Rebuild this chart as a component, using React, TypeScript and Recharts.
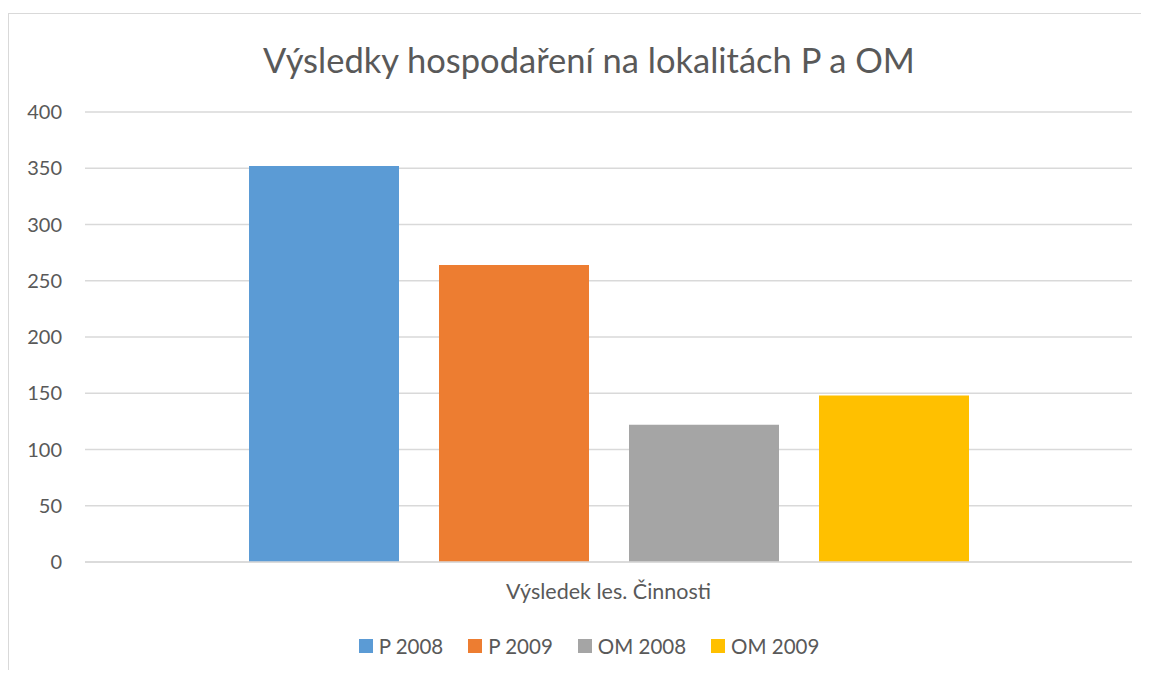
import React from "react";
import { BarChart, Bar, XAxis, YAxis, CartesianGrid } from "recharts";

const category = "Výsledek les. Činnosti";
const seriesNames = ["P 2008", "P 2009", "OM 2008", "OM 2009"];
const seriesKeys = ["p2008", "p2009", "om2008", "om2009"];
const seriesValues = [352, 264, 122, 148];
const seriesColors = ["#5b9bd5", "#ed7d31", "#a5a5a5", "#ffc000"];
const yTicks = [0, 50, 100, 150, 200, 250, 300, 350, 400];

const row: Record<string, string | number> = { name: category };
seriesKeys.forEach((k, i) => {
  row[k] = seriesValues[i];
});
const chartData = [row];

const FONT = "Lato, 'Open Sans', sans-serif";
const TEXT = "#595959";

export default function App() {
  return (
    <div
      style={{
        position: "relative",
        marginTop: 5,
        width: 1140,
        height: 656,
        overflow: "hidden",
        borderLeft: "1px solid #d9d9d9",
        borderTop: "1px solid #d9d9d9",
        background: "#fff",
        fontFamily: FONT,
      }}
    >
      <div
        style={{
          position: "absolute",
          top: 25,
          left: 0,
          width: 1160,
          textAlign: "center",
          fontSize: 34.5,
          color: TEXT,
        }}
      >
        Výsledky hospodaření na lokalitách P a OM
      </div>
      <BarChart
        width={1160}
        height={640}
        data={chartData}
        margin={{ top: 98, right: 37, left: 0, bottom: 32 }}
        barSize={150}
        barGap={40}
      >
        <CartesianGrid vertical={false} stroke="#d9d9d9" strokeWidth={1.5} />
        <XAxis
          dataKey="name"
          height={60}
          tickLine={false}
          tickSize={0}
          tickMargin={22}
          axisLine={{ stroke: "#d9d9d9", strokeWidth: 1.5 }}
          tick={{ fill: TEXT, fontSize: 21.5, fontFamily: FONT }}
        />
        <YAxis
          width={76}
          domain={[0, 400]}
          ticks={yTicks}
          axisLine={false}
          tickLine={false}
          tickSize={0}
          tickMargin={23}
          tick={{ fill: TEXT, fontSize: 20, fontFamily: FONT }}
        />
        {seriesKeys.map((k, i) => (
          <Bar key={k} dataKey={k} name={seriesNames[i]} fill={seriesColors[i]} isAnimationActive={false} />
        ))}
      </BarChart>
      <div
        style={{
          position: "absolute",
          top: 620,
          left: 0,
          width: 1160,
          display: "flex",
          justifyContent: "center",
          fontSize: 20.5,
          color: TEXT,
        }}
      >
        {seriesNames.map((n, i) => (
          <div key={n} style={{ display: "flex", alignItems: "center", marginRight: i < seriesNames.length - 1 ? 25 : 0 }}>
            <span style={{ width: 14, height: 14, background: seriesColors[i], display: "inline-block", marginRight: 6 }} />
            <span>{n}</span>
          </div>
        ))}
      </div>
    </div>
  );
}
